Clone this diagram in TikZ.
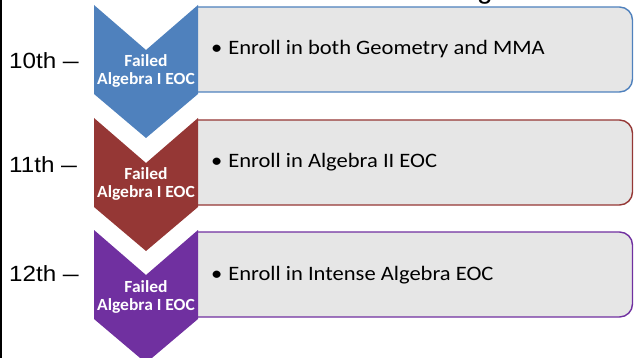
\documentclass[tikz,border=0pt]{standalone}
\usepackage{fontspec}
\setmainfont{Carlito}
\newfontfamily\yearfont{Liberation Sans}
\definecolor{cblue}{HTML}{4F81BD}
\definecolor{cred}{HTML}{953735}
\definecolor{cpurple}{HTML}{7030A0}
\definecolor{boxfill}{HTML}{E6E6E6}
\newcommand\mychev[2]{\fill[#1] (94,#2) -- (146,{#2+45}) -- (198,#2) -- (198,{#2+89}) -- (146,{#2+133}) -- (94,{#2+89}) -- cycle;}
\newcommand\mybox[2]{\draw[#1, line width=1.4pt, fill=boxfill] (198,{#2+2}) [rounded corners=13] -- (632.5,{#2+2}) -- (632.5,{#2+87}) -- (198,{#2+87});}
\newcommand\failtxt{\scalebox{1.03}[1]{\begin{tabular}{@{}c@{}}Failed\\Algebra I EOC\end{tabular}}}
\newcommand\btxt[1]{\scalebox{1.1}[1]{\makebox[15.5pt][l]{•}#1}}
\newcommand\ytxt[1]{\scalebox{1.1}[1]{#1}\hspace{6.5pt}\scalebox{0.72}[1]{—}}
\tikzset{
  chevtext/.style={text=white, font=\bfseries\fontsize{17}{18}\selectfont, inner sep=0pt},
  bullettext/.style={text=black, font=\fontsize{20.5}{22}\selectfont, anchor=west, inner sep=0pt},
  yearlabel/.style={text=black, font=\yearfont\fontsize{22}{24}\selectfont, anchor=west, inner sep=0pt},
}
\begin{document}
\begin{tikzpicture}[x=1pt,y=-1pt]
\useasboundingbox (0,0) rectangle (634,358);
\clip (0,0) rectangle (634,358);
\node[font=\yearfont\fontsize{28}{30}\selectfont, anchor=base, inner sep=0pt] (title) at (485,-1) {g};
\draw[black, line width=1.5pt] (1,0) -- (1,358);
% row 1
\mybox{cblue}{5}
\mychev{cblue}{5}
\node[chevtext] (f1) at (146,72) {\failtxt};
\node[bullettext] (b1) at (211,49.5) {\btxt{Enroll in both Geometry and MMA}};
\node[yearlabel] (y1) at (9,61) {\ytxt{10th}};
% row 2
\mybox{cred}{118}
\mychev{cred}{118}
\node[chevtext] (f2) at (146,185) {\failtxt};
\node[bullettext] (b2) at (211,162) {\btxt{Enroll in Algebra II EOC}};
\node[yearlabel] (y2) at (9,165) {\ytxt{11th}};
% row 3
\mybox{cpurple}{230}
\mychev{cpurple}{230}
\node[chevtext] (f3) at (146,298) {\failtxt};
\node[bullettext] (b3) at (211,275) {\btxt{Enroll in Intense Algebra EOC}};
\node[yearlabel] (y3) at (9,274) {\ytxt{12th}};
\end{tikzpicture}
\end{document}
